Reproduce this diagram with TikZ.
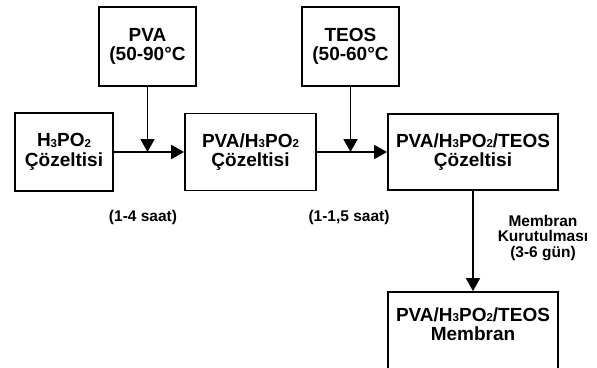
\documentclass[tikz,border=0pt]{standalone}
\usepackage{fontspec}
\setmainfont{Liberation Sans}
\usetikzlibrary{arrows.meta}
\newcommand{\sbs}[1]{\raisebox{-0.5pt}{\fontsize{11.5}{11.5}\selectfont #1}}
\begin{document}
\begin{tikzpicture}[x=1pt,y=-1pt,
  box/.style={draw,line width=1.8pt,align=center,font=\fontsize{19}{19.5}\selectfont\bfseries,inner sep=0pt},
  lbl/.style={align=center,font=\fontsize{15.5}{15.5}\selectfont\bfseries,inner sep=0pt},
  arr/.style={line width=1.8pt,-{Triangle[length=13pt,width=14pt]}}]
\useasboundingbox (0,0) rectangle (597,367);
\clip (0,0) rectangle (597,367);
\node[box,minimum width=97pt,minimum height=79pt] (pva) at (147.5,46.5) {PVA\\(50-90°C};
\node[box,minimum width=97pt,minimum height=79pt] (teos) at (350.5,46.5) {TEOS\\(50-60°C};
\node[box,minimum width=98pt,minimum height=78pt] (h3) at (64,152) {H\sbs{3}PO\sbs{2}\\Çözeltisi};
\node[box,minimum width=131pt,minimum height=77pt] (ph) at (250.5,152) {PVA/H\sbs{3}PO\sbs{2}\\Çözeltisi};
\node[box,minimum width=170pt,minimum height=76pt] (pht) at (473,152) {PVA/H\sbs{3}PO\sbs{2}/TEOS\\Çözeltisi};
\node[box,minimum width=170pt,minimum height=78pt] (mem) at (473,331) {};
\node[font=\fontsize{19}{19.5}\selectfont\bfseries,align=center,inner sep=0pt] (memt) at (473,324) {PVA/H\sbs{3}PO\sbs{2}/TEOS\\Membran};
\coordinate (j1) at (pva.south |- h3.east);
\coordinate (j2) at (teos.south |- ph.east);
\draw[arr] (h3.east) -- (ph.west);
\draw[arr] (pva.south) -- (j1);
\draw[arr] (ph.east) -- (pht.west);
\draw[arr] (teos.south) -- (j2);
\draw[arr] (pht.south) -- (mem.north);
\node[lbl] (l1) at (143,217) {(1-4 saat)};
\node[lbl] (l2) at (349,217) {(1-1,5 saat)};
\node[lbl] (l3) at (543,238) {Membran\\Kurutulması\\(3-6 gün)};
\end{tikzpicture}
\end{document}
